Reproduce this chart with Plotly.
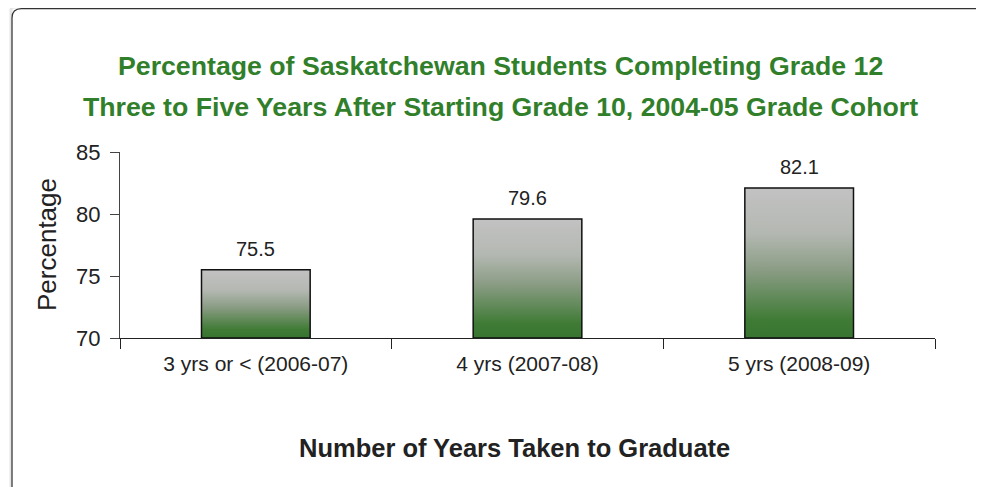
import plotly.graph_objs as go

categories = ['3 yrs or < (2006-07)', '4 yrs (2007-08)', '5 yrs (2008-09)']
values = [75.5, 79.6, 82.1]
y_base = 70
y_ticks = [70, 75, 80, 85]

title_line1 = 'Percentage of Saskatchewan Students Completing Grade 12'
title_line2 = 'Three to Five Years After Starting Grade 10, 2004-05 Grade Cohort'
x_title = 'Number of Years Taken to Graduate'
y_title = 'Percentage'

FONT = 'Liberation Sans, Arial, Helvetica, sans-serif'
GREEN = '#317f2b'
TXT = '#222222'
half_w = 0.2

# plot area in pixels (page has an 8px body offset)
L, T, PW, PH = 112, 144, 815, 186

fig = go.Figure()

# one filled trace per bar so each bar gets its own vertical gradient
for i, v in enumerate(values):
    fig.add_trace(go.Scatter(
        x=[i - half_w, i + half_w, i + half_w, i - half_w, i - half_w],
        y=[y_base, y_base, v, v, y_base],
        mode='lines',
        fill='toself',
        fillgradient=dict(type='vertical',
                          colorscale=[[0, '#377530'], [0.12, '#3f7b35'],
                                      [0.45, '#8a9c84'], [0.7, '#b4b8b2'],
                                      [1, '#c2c2c2']]),
        line=dict(color='#111111', width=1.5),
        hoverinfo='skip',
        showlegend=False))

# boundary ticks on an overlaid axis
fig.add_trace(go.Scatter(x=[-0.5, 2.5], y=[None, None], xaxis='x2',
                         mode='markers', showlegend=False, hoverinfo='skip'))

annotations = [
    dict(text=f'<b>{title_line1}</b>', xref='paper', yref='paper',
         x=(492 - L) / PW, y=1 + (T - 58) / PH, xanchor='center', yanchor='middle',
         showarrow=False, font=dict(size=26.7, color=GREEN)),
    dict(text=f'<b>{title_line2}</b>', xref='paper', yref='paper',
         x=(492 - L) / PW, y=1 + (T - 99) / PH, xanchor='center', yanchor='middle',
         showarrow=False, font=dict(size=26.7, color=GREEN)),
    dict(text=f'<b>{x_title}</b>', xref='paper', yref='paper',
         x=(506 - L) / PW, y=-110 / PH, xanchor='center', yanchor='middle',
         showarrow=False, font=dict(size=25.5, color=TXT)),
    dict(text=y_title, xref='paper', yref='paper', x=0, xshift=-73, y=0.5,
         xanchor='center', yanchor='middle', textangle=-90,
         showarrow=False, font=dict(size=26, color=TXT)),
]
# value labels above bars
for i, v in enumerate(values):
    annotations.append(dict(text=f'{v:.1f}', x=i, y=v, xref='x', yref='y',
                            yshift=21, xanchor='center', yanchor='middle',
                            showarrow=False, font=dict(size=20, color=TXT)))

fig.update_layout(
    width=984, height=487,
    margin=dict(l=L, r=984 - L - PW, t=T, b=487 - T - PH),
    paper_bgcolor='white', plot_bgcolor='white',
    font=dict(family=FONT, color=TXT),
    xaxis=dict(range=[-0.5, 2.5], tickvals=list(range(len(categories))),
               ticktext=categories, ticks='', showgrid=False, zeroline=False,
               showline=True, linecolor=TXT, linewidth=1,
               ticklabelstandoff=7,
               tickfont=dict(size=21, color=TXT)),
    xaxis2=dict(range=[-0.5, 2.5], overlaying='x', side='bottom',
                tickvals=[-0.5, 0.5, 1.5, 2.5], showticklabels=False,
                ticks='outside', ticklen=10, tickcolor=TXT,
                showgrid=False, zeroline=False, showline=False),
    yaxis=dict(range=[y_base, 85], tickvals=y_ticks, ticks='outside', ticklen=9,
               tickcolor='#444444', showgrid=False, zeroline=False,
               showline=True, linecolor='#444444', linewidth=1,
               ticklabelstandoff=5,
               tickfont=dict(size=22, color=TXT)),
    annotations=annotations,
    shapes=[
        # soft shadow + rounded frame around the whole figure
        dict(type='path', xref='paper', yref='paper', xanchor=0, yanchor=1,
             xsizemode='pixel', ysizemode='pixel',
             path='M -109,-400 L -109,142 Q -109,145 -106,145 L 900,145',
             line=dict(color='rgba(0,0,0,0.10)', width=3)),
        dict(type='path', xref='paper', yref='paper', xanchor=0, yanchor=1,
             xsizemode='pixel', ysizemode='pixel',
             path='M -108,-400 L -108,134 Q -108,143.4 -98.6,143.4 L 900,143.4',
             line=dict(color='#333333', width=1.2)),
    ],
)

fig.write_html('out.html')
